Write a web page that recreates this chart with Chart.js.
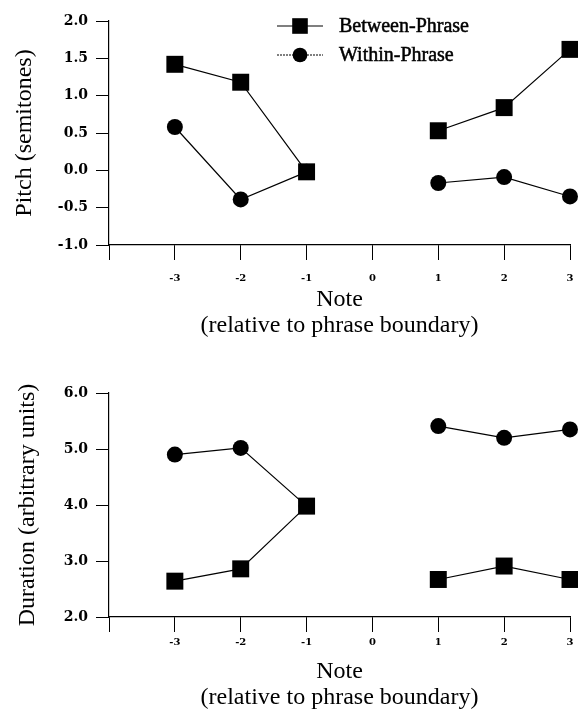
<!DOCTYPE html>
<html>
<head>
<meta charset="utf-8">
<script src="https://cdn.jsdelivr.net/npm/chart.js@4.4.1/dist/chart.umd.min.js"></script>
<style>
  html, body { margin: 0; padding: 0; background: #fff; overflow: hidden; }
  .panel { position: absolute; left: 0; width: 578px; overflow: hidden; }
  #pitchBox { top: 0; height: 345px; }
  #durBox { top: 345px; height: 367px; }
</style>
</head>
<body>
<div class="panel" id="pitchBox"><canvas id="pitch" width="582" height="345"></canvas></div>
<div class="panel" id="durBox"><canvas id="duration" width="582" height="367"></canvas></div>
<script>
// Note position relative to the phrase boundary (no data at 0)
const notes = [-3, -2, -1, 0, 1, 2, 3];
const seriesNames = ['Between-Phrase', 'Within-Phrase'];

// Pitch (semitones)
const pitchBetween = [1.42, 1.18, -0.02, null, 0.53, 0.84, 1.62];
const pitchWithin = [0.58, -0.39, -0.02, null, -0.17, -0.09, -0.35];
const pitchTicks = [-1.0, -0.5, 0.0, 0.5, 1.0, 1.5, 2.0];

// Duration (arbitrary units)
const durBetween = [2.64, 2.86, 3.98, null, 2.67, 2.91, 2.67];
const durWithin = [4.90, 5.02, 3.98, null, 5.41, 5.20, 5.35];
const durTicks = [2.0, 3.0, 4.0, 5.0, 6.0];

const xTitle = ['Note', '(relative to phrase boundary)'];

Chart.defaults.font.family = '"Liberation Serif", "Times New Roman", serif';
Chart.defaults.color = '#000';

// legend drawn as line + marker, like the original figure
const lineLegend = {
  id: 'lineLegend',
  afterDatasetsDraw(chart, args, opts) {
    if (!opts.show) return;
    const ctx = chart.ctx;
    chart.data.datasets.forEach((ds, i) => {
      const y = opts.y + i * opts.gap;
      ctx.save();
      ctx.strokeStyle = '#000';
      ctx.fillStyle = '#000';
      ctx.lineWidth = 1.2;
      if (i === 1) ctx.setLineDash([2, 1]);
      ctx.beginPath();
      ctx.moveTo(opts.x, y);
      ctx.lineTo(opts.x + opts.len, y);
      ctx.stroke();
      ctx.setLineDash([]);
      Chart.helpers.drawPoint(ctx, {
        pointStyle: ds.pointStyle,
        radius: ds.pointRadius * 0.92,
        rotation: 0,
        borderWidth: 0
      }, opts.x + opts.len / 2, y);
      ctx.font = '20px "Liberation Serif"';
      ctx.textBaseline = 'middle';
      ctx.textAlign = 'left';
      ctx.lineWidth = 0.5;
      ctx.fillText(ds.label, opts.textX, y + 1);
      ctx.strokeText(ds.label, opts.textX, y + 1);
      ctx.restore();
    });
  }
};

function makeChart(id, between, within, yTicks, yLabel, cfg) {
  const toPts = arr => notes.map((x, i) => ({ x: x, y: arr[i] }));
  const common = {
    borderColor: '#000',
    backgroundColor: '#000',
    borderWidth: 1.2,
    pointBorderWidth: 0,
    pointBackgroundColor: '#000',
    tension: 0,
    spanGaps: false,
    clip: false
  };
  return new Chart(document.getElementById(id), {
    type: 'line',
    data: {
      datasets: [
        Object.assign({ label: seriesNames[0], data: toPts(between), pointStyle: 'rect', pointRadius: 12, pointHoverRadius: 12 }, common),
        Object.assign({ label: seriesNames[1], data: toPts(within), pointStyle: 'circle', pointRadius: 8, pointHoverRadius: 8 }, common)
      ]
    },
    options: {
      responsive: false,
      animation: false,
      devicePixelRatio: 1,
      layout: { padding: { top: cfg.top, right: 4, left: 0, bottom: 0 } },
      plugins: {
        legend: { display: false },
        tooltip: { enabled: false },
        lineLegend: cfg.legend
      },
      scales: {
        x: {
          type: 'linear',
          min: -4,
          max: 3,
          afterFit: s => {
            s.height = cfg.xHeight;
            s.paddingLeft = 0;
            s.paddingRight = 0;
          },
          ticks: {
            stepSize: 1,
            padding: cfg.xTickPad,
            font: { family: '"DejaVu Serif"', weight: 'bold', size: 10 },
            callback: v => (v === -4 ? '' : v)
          },
          grid: { drawOnChartArea: false, drawTicks: true, tickLength: 15, color: '#000', lineWidth: 1 },
          border: { display: true, color: '#000', width: 1.2 },
          title: {
            display: true,
            text: xTitle,
            font: { size: 24, lineHeight: 1.05 },
            padding: { top: 0, bottom: cfg.xTitlePad }
          }
        },
        y: {
          min: yTicks[0],
          max: yTicks[yTicks.length - 1],
          afterFit: s => { s.width = 109; },
          ticks: {
            stepSize: yTicks[1] - yTicks[0],
            padding: 8,
            font: { family: '"DejaVu Serif"', weight: 'bold', size: 14 },
            callback: v => v.toFixed(1)
          },
          grid: { drawOnChartArea: false, drawTicks: true, tickLength: 13, color: '#000', lineWidth: 1 },
          border: { display: true, color: '#000', width: 1.2 },
          title: {
            display: true,
            text: yLabel,
            font: { size: 24, lineHeight: 1.05 },
            padding: { top: cfg.yTitlePad, bottom: 0 }
          }
        }
      }
    },
    plugins: [lineLegend]
  });
}

makeChart('pitch', pitchBetween, pitchWithin, pitchTicks, 'Pitch (semitones)', {
  top: 21, xHeight: 100, xTickPad: 12, xTitlePad: 7, yTitlePad: 12,
  legend: { show: true, x: 277, len: 46, textX: 339, y: 26, gap: 29 }
});

makeChart('duration', durBetween, durWithin, durTicks, 'Duration (arbitrary units)', {
  top: 48, xHeight: 95, xTickPad: 4, xTitlePad: 2, yTitlePad: 15,
  legend: { show: false }
});
</script>
</body>
</html>
